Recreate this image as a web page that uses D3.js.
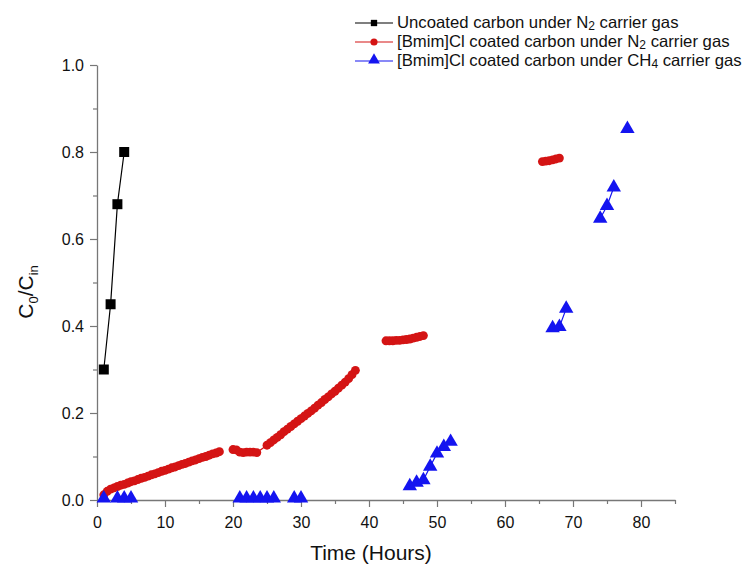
<!DOCTYPE html>
<html><head><meta charset="utf-8">
<script src="https://cdn.jsdelivr.net/npm/d3@7"></script>
<style>body{margin:0;background:#fff}svg{display:block}text{font-family:"Liberation Sans",Arial,sans-serif}</style>
</head><body><svg id="c" width="753" height="567"></svg>
<script>
// ---- data ----
const uncoatedHours = [1, 2, 3, 4];
const uncoatedValues = [0.30, 0.45, 0.68, 0.80];

const coatedN2Hours = [1,1.5,2,2.5,3,3.5,4,4.5,5,5.5,6,6.5,7,7.5,8,8.5,9,9.5,10,10.5,11,11.5,12,12.5,13,13.5,14,14.5,15,15.5,16,16.5,17,17.5,18,
  20,20.5,21,21.5,22,22.5,23,23.5,
  25,25.5,26,26.5,27,27.5,28,28.5,29,29.5,30,30.5,31,31.5,32,32.5,33,33.5,34,34.5,35,35.5,36,36.5,37,37.5,38,
  42.5,43,43.5,44,44.5,45,45.5,46,46.5,47,47.5,48,
  65.5,66,66.5,67,67.5,68];
const coatedN2Values = [0.012,0.020,0.025,0.028,0.031,0.034,0.036,0.039,0.042,0.044,0.047,0.050,0.052,0.055,0.058,0.060,0.063,0.066,0.068,0.071,0.074,0.076,0.079,0.082,0.084,0.087,0.090,0.092,0.095,0.098,0.100,0.103,0.106,0.108,0.111,
  0.116,0.115,0.110,0.109,0.110,0.110,0.110,0.109,
  0.126,0.132,0.138,0.144,0.150,0.157,0.163,0.169,0.175,0.181,0.187,0.193,0.199,0.205,0.211,0.218,0.224,0.231,0.237,0.244,0.250,0.257,0.264,0.271,0.279,0.288,0.298,
  0.366,0.366,0.366,0.367,0.367,0.368,0.369,0.370,0.372,0.374,0.376,0.378,
  0.778,0.779,0.780,0.782,0.784,0.786];

const coatedCH4Hours = [1,3,4,5, 21,22,23,24,25,26, 29,30, 46,47,48,49,50,51,52, 67,68,69, 74,75,76, 78];
const coatedCH4Values = [0.004,0.004,0.004,0.004, 0.004,0.004,0.004,0.004,0.004,0.004, 0.004,0.004, 0.032,0.040,0.046,0.077,0.107,0.122,0.134, 0.395,0.398,0.440, 0.647,0.676,0.719, 0.853];

const xTickLabels = ["0","10","20","30","40","50","60","70","80"];
const yTickLabels = ["0.0","0.2","0.4","0.6","0.8","1.0"];

const seriesNames = ["Uncoated carbon under N", "[Bmim]Cl coated carbon under N", "[Bmim]Cl coated carbon under CH"];
const seriesSubs = ["2", "2", "4"];
const seriesColors = ["#000000", "#d41414", "#1414f0"];
const seriesShapes = [d3.symbolSquare, d3.symbolCircle, d3.symbolTriangle];
const seriesSizes = [100, 62, 90];
const legendSizes = [40, 40, 60];

// ---- layout ----
const svg = d3.select("#c");
const L = 97, R = 675, T = 65, B = 500;
const x = d3.scaleLinear().domain([0, 85]).range([L, R]);
const y = d3.scaleLinear().domain([0, 1]).range([B, T]);
const axisColor = "#777";

const xAxis = d3.axisBottom(x).tickValues(d3.range(0, 86, 5)).tickSize(0).tickFormat("");
const gx = svg.append("g").attr("transform", `translate(0,${B})`).call(xAxis);
gx.select(".domain").attr("stroke", axisColor).attr("stroke-width", 1.3);
gx.selectAll(".tick").each(function(d){
  d3.select(this).select("line").attr("stroke", axisColor).attr("stroke-width",1.2).attr("y2", d % 10 === 0 ? 7 : 4);
});
gx.selectAll(".tick").filter(d => d % 10 === 0).append("text")
  .attr("y", 28).attr("text-anchor","middle").attr("fill","#111").attr("font-size", 16)
  .text(d => xTickLabels[d/10]);

const yAxis = d3.axisLeft(y).tickValues(d3.range(0, 11).map(i => i/10)).tickSize(0).tickFormat("");
const gy = svg.append("g").attr("transform", `translate(${L},0)`).call(yAxis);
gy.select(".domain").attr("stroke", axisColor).attr("stroke-width", 1.3);
gy.selectAll(".tick").each(function(d, i){
  d3.select(this).select("line").attr("stroke", axisColor).attr("stroke-width",1.2).attr("x2", i % 2 === 0 ? -7 : -4);
});
gy.selectAll(".tick").filter((d,i) => i % 2 === 0).append("text")
  .attr("x", -13).attr("dy", "0.35em").attr("text-anchor","end").attr("fill","#111").attr("font-size", 16)
  .text((d,i) => yTickLabels[Math.round(d*5)]);

// axis titles
svg.append("text").attr("x", (L + 675)/2 - 15).attr("y", 560).attr("text-anchor","middle")
  .attr("font-size", 21).attr("fill","#111").text("Time (Hours)");
const yl = svg.append("text").attr("transform", `translate(33,292) rotate(-90)`).attr("text-anchor","middle")
  .attr("font-size", 21).attr("fill","#111");
yl.append("tspan").text("C");
yl.append("tspan").attr("font-size", 13).attr("dy", 5).text("0");
yl.append("tspan").attr("dy", -5).text("/C");
yl.append("tspan").attr("font-size", 13).attr("dy", 5).text("in");

// ---- series ----
function segments(hours, values, gap) {
  const segs = []; let cur = [];
  hours.forEach((h, i) => {
    if (cur.length && h - hours[i-1] > gap) { segs.push(cur); cur = []; }
    cur.push([h, values[i]]);
  });
  if (cur.length) segs.push(cur);
  return segs;
}
const line = d3.line().x(d => x(d[0])).y(d => y(d[1]));
const allSeries = [
  {h: uncoatedHours, v: uncoatedValues, gap: 1.5},
  {h: coatedN2Hours, v: coatedN2Values, gap: 1.5},
  {h: coatedCH4Hours, v: coatedCH4Values, gap: 1.5}
];
allSeries.forEach((s, k) => {
  const g = svg.append("g");
  segments(s.h, s.v, s.gap).forEach(seg => {
    g.append("path").attr("d", line(seg)).attr("fill","none").attr("stroke", seriesColors[k]).attr("stroke-width", 1.2);
  });
  const sym = d3.symbol().type(seriesShapes[k]).size(seriesSizes[k]);
  g.selectAll("path.m").data(s.h.map((h,i)=>[h, s.v[i]])).enter().append("path").attr("class","m")
    .attr("d", sym).attr("fill", seriesColors[k])
    .attr("transform", d => `translate(${x(d[0])},${y(d[1])})`);
});

// ---- legend ----
const legRows = [23, 42, 61];
const legTexts = [];
seriesNames.forEach((name, k) => {
  const g = svg.append("g").attr("transform", `translate(0,${legRows[k]})`);
  g.append("line").attr("x1", 355).attr("x2", 393).attr("y1", 0).attr("y2", 0).attr("stroke", seriesColors[k]).attr("stroke-width", 1.2);
  g.append("path").attr("d", d3.symbol().type(seriesShapes[k]).size(legendSizes[k])()).attr("fill", seriesColors[k])
    .attr("transform", `translate(374,${k===2 ? -1 : 0})`);
  const t = g.append("text").attr("x", 397).attr("y", 5).attr("font-size", 15).attr("fill", "#111");
  t.append("tspan").attr("class","main").text(name);
  t.append("tspan").attr("class","sub").attr("font-size", 11).attr("dy", 2).text(seriesSubs[k]);
  t.append("tspan").attr("class","main").attr("dy", -2).text(" carrier gas");
  legTexts.push(t);
});
// fit legend width to the reference (last row ends near x=748)
const w3 = legTexts[2].node().getComputedTextLength();
const fs = Math.max(13, Math.min(17, 15 * 345 / w3));
legTexts.forEach(t => { t.attr("font-size", fs); t.selectAll("tspan.sub").attr("font-size", fs * 0.72); });
</script></body></html>
